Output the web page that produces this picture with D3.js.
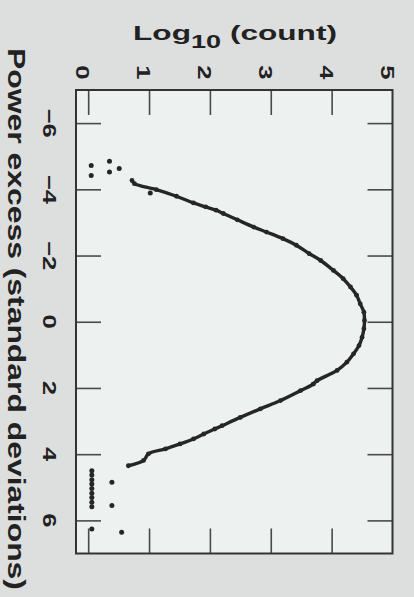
<!DOCTYPE html>
<html>
<head>
<meta charset="utf-8">
<script src="https://cdn.jsdelivr.net/npm/d3@7"></script>
<style>
  html, body { margin: 0; padding: 0; background: #dddfde; }
  svg { display: block; }
</style>
</head>
<body>
<div class="canvas"></div>
<script>
// power excess (sigma) and log10(count)
const curveX = [-4.27, -4.17, -3.99, -3.79, -3.59, -3.47, -3.37, -3.27, -3.08, -2.86,
  -2.71, -2.51, -2.31, -2.06, -1.85, -1.55, -1.30, -1.05, -0.80, -0.54,
  -0.29, -0.04, 0.21, 0.47, 0.72, 0.97, 1.22, 1.47, 1.78, 1.88,
  2.08, 2.38, 2.63, 2.89, 3.14, 3.24, 3.39, 3.54, 3.69, 3.84,
  3.99, 4.19, 4.35]
const curveV = [0.72, 0.76, 1.12, 1.45, 1.73, 1.93, 2.10, 2.22, 2.45, 2.72,
  2.93, 3.20, 3.42, 3.63, 3.82, 4.03, 4.19, 4.31, 4.41, 4.47,
  4.53, 4.54, 4.53, 4.50, 4.45, 4.36, 4.25, 4.09, 3.76, 3.70,
  3.49, 3.16, 2.83, 2.50, 2.20, 2.08, 1.90, 1.73, 1.51, 1.27,
  0.99, 0.91, 0.66]

// isolated points in the tails
const strayX = [-4.85, -4.72, -4.63, -4.52, -4.42, -3.89, 4.50, 4.63, 4.77, 4.85,
  4.90, 5.04, 5.18, 5.31, 5.45, 5.55, 5.59, 6.26, 6.36]
const strayV = [0.35, 0.05, 0.51, 0.35, 0.05, 1.02, 0.06, 0.06, 0.06, 0.39,
  0.06, 0.06, 0.06, 0.06, 0.06, 0.39, 0.06, 0.06, 0.55]

const countTicks = [0, 1, 2, 3, 4, 5]
const countLabels = ['0', '1', '2', '3', '4', '5']
const sigmaTicks = [-6, -4, -2, 0, 2, 4, 6]
const sigmaLabels = ['\u22126', '\u22124', '\u22122', '0', '2', '4', '6']

const width = 414
const height = 597
const frame = { left: 76, right: 392.5, top: 90, bottom: 553.5 }
const ink = '#262626'

const svg = d3
  .select('.canvas')
  .append('svg')
  .attr('width', width)
  .attr('height', height)

// Scales: count runs left->right, sigma runs top->bottom
const v = d3.scaleLinear().domain([-0.2, 5]).range([frame.left, frame.right])
const s = d3.scaleLinear().domain([-7, 7]).range([frame.top, frame.bottom])

svg
  .append('rect')
  .attr('x', frame.left)
  .attr('y', frame.top)
  .attr('width', frame.right - frame.left)
  .attr('height', frame.bottom - frame.top)
  .attr('fill', '#edf1f0')

// Tick marks, all pointing inward
const inner = countTicks.filter(d => d < 5)
const axes = [
  { axis: d3.axisTop(v).tickValues(inner), t: `translate(0,${frame.top})` },
  { axis: d3.axisBottom(v).tickValues(inner), t: `translate(0,${frame.bottom})` },
  { axis: d3.axisLeft(s).tickValues(sigmaTicks), t: `translate(${frame.left},0)` },
  { axis: d3.axisRight(s).tickValues(sigmaTicks), t: `translate(${frame.right},0)` }
]
axes.forEach(a => {
  const g = svg
    .append('g')
    .attr('transform', a.t)
    .call(a.axis.tickSize(-25).tickFormat(''))
  g.select('.domain').remove()
  g.selectAll('line').attr('stroke', '#4a4a4a').attr('stroke-width', 1.6)
})

// Curve: line through the readings plus the beads
const line = d3
  .line()
  .curve(d3.curveCatmullRom)
  .x(i => v(curveV[i]))
  .y(i => s(curveX[i]))

svg
  .append('path')
  .datum(d3.range(curveX.length))
  .attr('fill', 'none')
  .attr('stroke', ink)
  .attr('stroke-width', 3.4)
  .attr('d', line)

svg
  .append('g')
  .selectAll('circle.c')
  .data(d3.range(curveX.length))
  .enter()
  .append('circle')
  .attr('cx', i => v(curveV[i]))
  .attr('cy', i => s(curveX[i]))
  .attr('r', 2.4)
  .attr('fill', ink)

svg
  .append('g')
  .selectAll('circle.s')
  .data(d3.range(strayX.length))
  .enter()
  .append('circle')
  .attr('cx', i => v(strayV[i]))
  .attr('cy', i => s(strayX[i]))
  .attr('r', 2.5)
  .attr('fill', ink)

// Frame
svg
  .append('rect')
  .attr('x', frame.left)
  .attr('y', frame.top)
  .attr('width', frame.right - frame.left)
  .attr('height', frame.bottom - frame.top)
  .attr('fill', 'none')
  .attr('stroke', '#333')
  .attr('stroke-width', 2)

// Tick labels, turned a quarter clockwise
const font = '"Liberation Sans", Arial, sans-serif'
svg
  .append('g')
  .selectAll('text')
  .data(countTicks)
  .enter()
  .append('text')
  .attr('transform', d => `translate(${v(d) - 5},72.5) rotate(90) scale(1.35,1)`)
  .attr('text-anchor', 'middle')
  .attr('dy', '0.36em')
  .attr('font-family', font)
  .attr('font-weight', 'bold')
  .attr('font-size', 19)
  .attr('fill', '#222')
  .text((d, i) => countLabels[i])

svg
  .append('g')
  .selectAll('text')
  .data(sigmaTicks)
  .enter()
  .append('text')
  .attr('transform', d => `translate(50,${s(d)}) rotate(90) scale(1.35,1)`)
  .attr('text-anchor', 'middle')
  .attr('dy', '0.36em')
  .attr('font-family', font)
  .attr('font-weight', 'bold')
  .attr('font-size', 19)
  .attr('fill', '#222')
  .text((d, i) => sigmaLabels[i])

// Titles, stretched to the widths in the figure
const countTitle = svg
  .append('text')
  .attr('text-anchor', 'middle')
  .attr('font-family', font)
  .attr('font-weight', 'bold')
  .attr('font-size', 21)
  .attr('fill', '#222')
countTitle.append('tspan').text('Log')
countTitle.append('tspan').attr('font-size', 18).attr('dy', 8).text('10')
countTitle.append('tspan').attr('dy', -8).text('\u00a0(count)')
const kTop = 204 / countTitle.node().getBBox().width
countTitle.attr('transform', `translate(235,40) scale(${kTop},1)`)

const sigmaTitle = svg
  .append('text')
  .attr('text-anchor', 'middle')
  .attr('font-family', font)
  .attr('font-weight', 'bold')
  .attr('font-size', 24)
  .attr('fill', '#222')
  .text('Power excess (standard deviations)')
const kSide = 542 / sigmaTitle.node().getBBox().width
sigmaTitle.attr('transform', `translate(8,319) rotate(90) scale(${kSide},1)`)
</script>
</body>
</html>
